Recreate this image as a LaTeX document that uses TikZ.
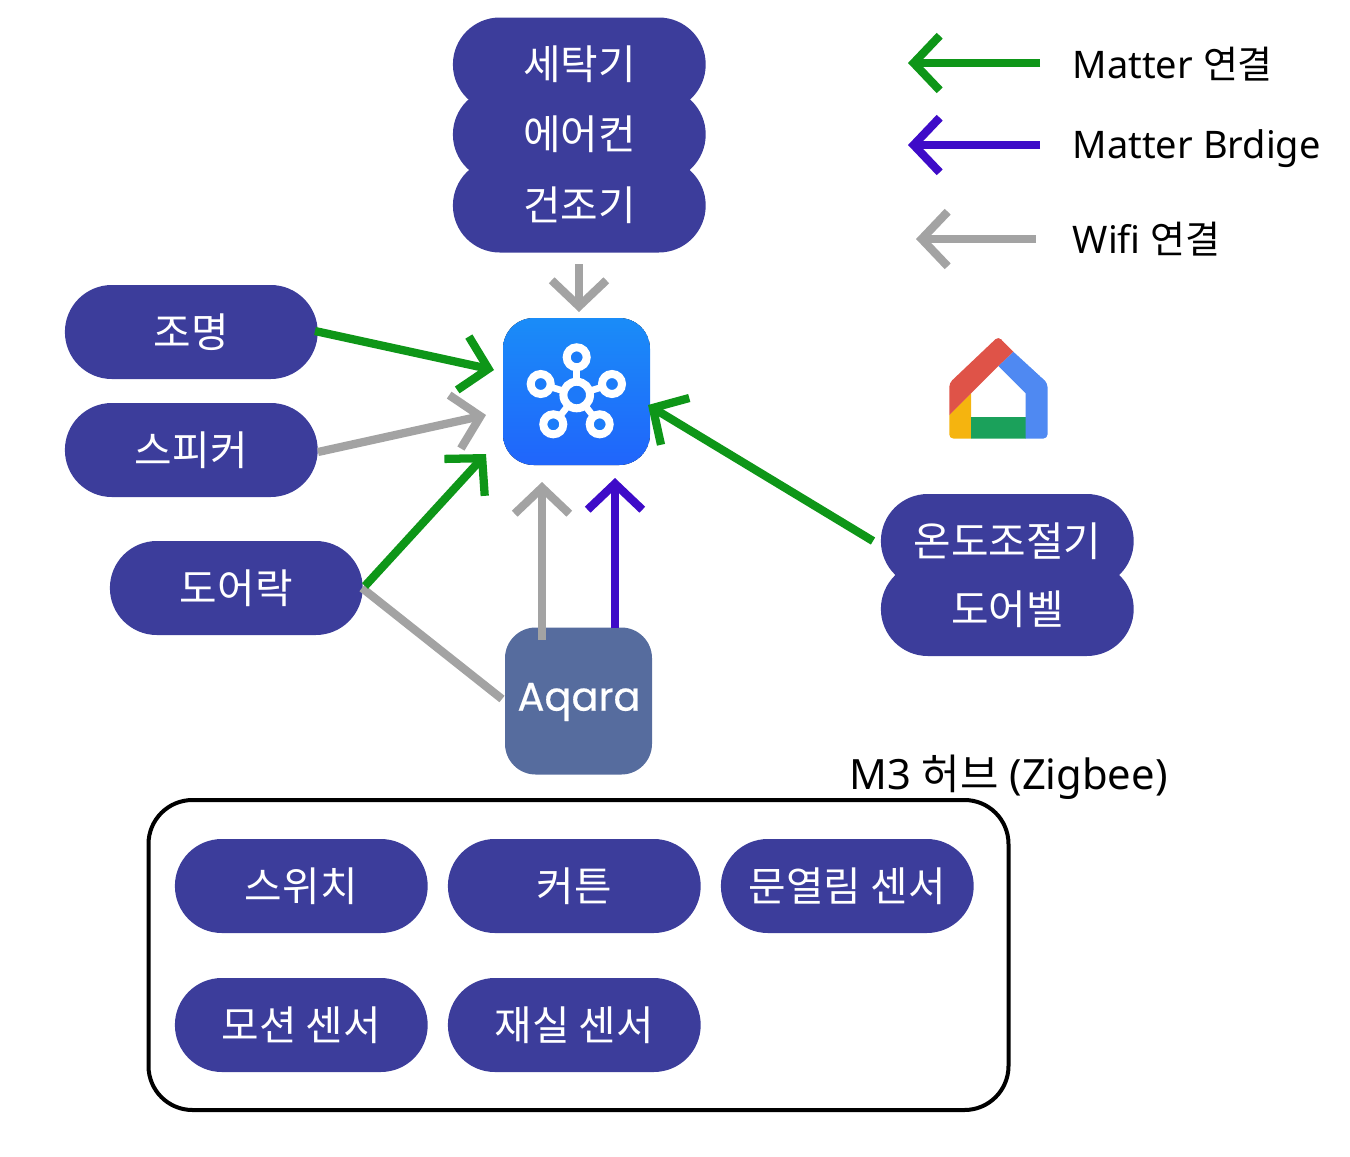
\documentclass[tikz,border=0pt]{standalone}
\usepackage{fontspec}
\setmainfont{Noto Sans}
\newfontfamily\kr{Noto Sans CJK KR}
\newfontfamily\logofont[FakeBold=0.5]{Poppins}
\usetikzlibrary{arrows.meta,positioning}
\definecolor{pill}{HTML}{3C3D9B}
\definecolor{mgreen}{HTML}{0E9618}
\definecolor{mpurple}{HTML}{3E0BC8}
\definecolor{mgrey}{HTML}{A3A3A3}
\definecolor{aqarabg}{HTML}{566C9E}
\definecolor{gred}{HTML}{DF5348}
\definecolor{gblue}{HTML}{4F89F2}
\definecolor{ggreen}{HTML}{1BA15B}
\definecolor{gyellow}{HTML}{F5B40F}
\definecolor{stop}{HTML}{1A8CF8}
\definecolor{sbot}{HTML}{2065FB}
\tikzset{
  x=0.75pt,y=-0.75pt,
  pillbox/.style={fill=pill,rounded corners=35.2pt,minimum width=189.6pt,minimum height=70.5pt,inner sep=0pt,text=white,font=\kr\fontsize{30.6}{30}\selectfont},
  legendtext/.style={anchor=west,inner sep=0pt,font=\fontsize{28.5}{30}\selectfont},
  conn/.style={line width=6.2pt,line cap=butt},
  tip/.style={-{Straight Barb[length=19.5pt,width=41pt,line width=6.2pt]}},
  ring/.style={draw=white,line width=6pt,fill=none},
  spoke/.style={draw=white,line width=5pt}
}
\begin{document}
\begin{tikzpicture}
\useasboundingbox (0,0) rectangle (1350,1157);
% top stack
\node[pillbox] (wash) at (579.3,64.5) {세탁기};
\node[pillbox] (air) at (579.3,134.5) {에어컨};
\node[pillbox] (dry) at (579.3,205.5) {건조기};
% left
\node[pillbox] (light) at (191.3,332) {조명};
\node[pillbox] (spk) at (191.3,450) {스피커};
\node[pillbox] (lock) at (236.3,588) {도어락};
% right
\node[pillbox] (thermo) at (1007.3,541) {온도조절기};
\node[pillbox] (bell) at (1007.3,609) {도어벨};
% hubs
\node[inner sep=0pt,minimum size=110.25pt,rounded corners=23pt,fill=none,
  path picture={\fill[top color=stop,bottom color=sbot] (path picture bounding box.south west) rectangle (path picture bounding box.north east);}] (st) at (576.5,391.5) {};
\foreach \p in {(576.7,357.3),(540.7,384),(612,384),(553.3,424.3),(599.7,424.3)}{
  \draw[spoke] (576.7,395) -- \p;
}
\foreach \p in {(576.7,357.3),(540.7,384),(612,384),(553.3,424.3),(599.7,424.3)}{
  \fill[stop!60!sbot] \p circle[radius=10];
  \draw[ring] \p circle[radius=10];
}
\fill[stop!50!sbot] (576.7,395) circle[radius=13];
\draw[ring] (576.7,395) circle[radius=13.3];
\node[inner sep=0pt,minimum size=110.25pt,rounded corners=23pt,fill=aqarabg] (aq) at (578.5,701) {};
\node[text=white,inner sep=0pt,font=\logofont\fontsize{30}{30}\selectfont] (aqt) at (579,702) {Aqara};
% Google Home
\begin{scope}
\clip[rounded corners=3pt] (998.3,336.5) -- (1047.5,383) -- (1047.5,438.5) -- (949.3,438.5) -- (949.3,383) -- cycle;
\fill[gyellow] (949.3,415) -- (971,393.3) -- (971,438.5) -- (949.3,438.5) -- cycle;
\fill[ggreen] (971,416.7) rectangle (1025.7,438.5);
\fill[gblue] (1013.3,351.7) -- (1047.5,383) -- (1047.5,438.5) -- (1025.7,438.5) -- (1025.7,393.3) -- (998.3,366) -- cycle;
\fill[gred] (998.3,336.5) -- (1013.3,351.7) -- (998.3,366) -- (971,393.3) -- (949.3,415) -- (949.3,383) -- cycle;
\end{scope}
% Zigbee box
\node[draw=black,line width=3pt,rounded corners=33pt,minimum width=645pt,minimum height=232.5pt,inner sep=0pt] (m3) at (578.5,955) {};
\node[anchor=west,inner sep=0pt,font=\fontsize{31.3}{30}\selectfont] (m3t) at (849,777) {M3 {\kr 허브} (Zigbee)};
\node[pillbox] (sw) at (301.3,886) {스위치};
\node[pillbox] (cur) at (574.3,886) {커튼};
\node[pillbox] (door) at (847.3,886) {문열림 센서};
\node[pillbox] (mot) at (301.3,1025) {모션 센서};
\node[pillbox] (fp) at (574.3,1025) {재실 센서};
% connector end points
\coordinate (a1) at (315,331); \coordinate (a1t) at (494,370);
\coordinate (a2) at (318,452); \coordinate (a2t) at (486,415);
\coordinate (a3) at (365,586); \coordinate (a3t) at (486,454);
\coordinate (a4) at (362,588); \coordinate (a4t) at (502,699);
\coordinate (a5) at (542,640); \coordinate (a5t) at (542,482);
\coordinate (a6) at (615,628); \coordinate (a6t) at (615,478);
\coordinate (a7) at (873,541); \coordinate (a7t) at (648,405);
\coordinate (a8) at (579,264); \coordinate (a8t) at (579,312);
\draw[conn,tip,mgreen] (a1) -- (a1t);
\draw[conn,tip,mgrey] (a2) -- (a2t);
\draw[conn,mgrey] (a4) -- (a4t);
\draw[conn,tip,mgreen] (a3) -- (a3t);
\draw[conn,tip,mgrey] (a5) -- (a5t);
\draw[conn,tip,mpurple] (a6) -- (a6t);
\draw[conn,tip,mgreen] (a7) -- (a7t);
\draw[conn,tip,mgrey] (a8) -- (a8t);
% legend
\node[legendtext] (l1) at (1072.5,64) {Matter {\kr 연결}};
\node[legendtext] (l2) at (1072.5,149) {Matter Brdige};
\node[legendtext] (l3) at (1072.5,239) {Wifi {\kr 연결}};
\coordinate (l1a) at (1040,63); \coordinate (l1b) at (908,63);
\coordinate (l2a) at (1040,145); \coordinate (l2b) at (908,145);
\coordinate (l3a) at (1036,239); \coordinate (l3b) at (916,239);
\draw[conn,tip,mgreen] (l1a) -- (l1b);
\draw[conn,tip,mpurple] (l2a) -- (l2b);
\draw[conn,tip,mgrey] (l3a) -- (l3b);
\end{tikzpicture}
\end{document}
